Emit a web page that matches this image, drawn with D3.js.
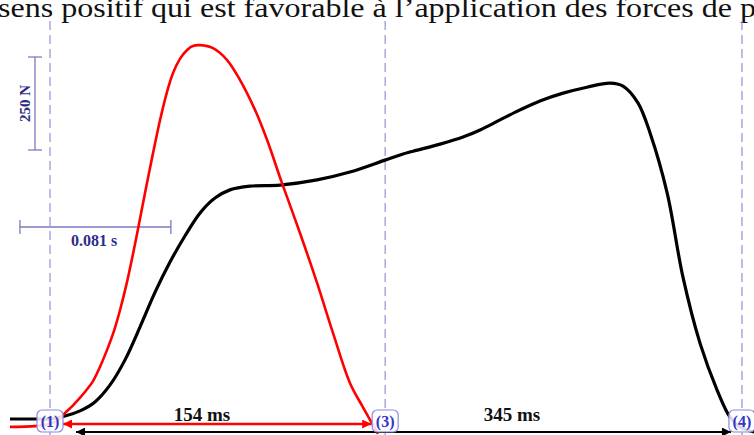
<!DOCTYPE html>
<html><head><meta charset="utf-8">
<script src="https://cdn.jsdelivr.net/npm/d3@7"></script>
<style>html,body{margin:0;padding:0;background:#fff;}svg{display:block;}</style>
</head><body>
<svg id="c" width="754" height="435"></svg>
<script>
// time in ms (0 = marker 1), force in N
const redTime  = [-18.5,-6.9,0,3.7,6.9,10.2,13.4,16.6,19.9,23.1,26.8,29.6,32.4,35.6,38.4,40.7,44.4,47.2,50.9,54.1,56.9,60.1,63.4,66.1,69.4,75.4,81.9,87.9,94.8,100.4,107.3,115.6,123.5,130.9,138.7,144.7,148.9,151.7];
const redForce = [-13,-11,-5,5,24,42,62,84,110,148,200,245,301,376,452,519,629,710,812,887,938,976,1000,1011,1013,1005,973,919,839,758,642,508,374,239,105,40,-3,-32];
const blackTime  = [-18.5,-6.9,0,6.9,13.9,20.8,27.7,34.7,41.6,48.6,55.5,62.4,69.4,76.3,83.2,92.5,106.4,123.5,138.7,154.9,161.9,167.9,180.4,191.0,198.9,208.1,217.4,226.6,237.3,248.3,259.0,265.0,271.9,277.5,285.4,292.7,300.6,308.5,314.5,319.1,325.6];
const blackForce = [8,8,8,16,30,54,99,167,255,349,430,500,562,602,624,634,637,651,672,704,718,728,747,766,785,812,839,863,884,900,911,903,858,777,616,390,212,86,13,-13,-27];
const markerTimes  = [0,155,320];
const markerLabels = ["(1)","(3)","(4)"];
const spanLabels   = ["154 ms","345 ms"];
const forceBar = [0,250]; const forceBarLabel = "250 N";
const timeBar  = [-13.9,55.9]; const timeBarLabel = "0.081 s";
const headline = "sens positif qui est favorable à l’application des forces de p";

const svg = d3.select("#c");
const x = d3.scaleLinear().domain([0,154]).range([50,383]);
const y = d3.scaleLinear().domain([0,250]).range([422,329]);
const serif = "Liberation Serif, DejaVu Serif, serif";
const guide = "#9a9ad8", navy = "#2d2d85", barCol = "#7a7ac2";

// headline
svg.append("text").attr("x",-2).attr("y",17).attr("font-family",serif).attr("font-size",28)
  .attr("fill","#111").attr("textLength",758).attr("lengthAdjust","spacingAndGlyphs").text(headline);

// dashed guides
svg.selectAll("line.guide").data(markerTimes).join("line").attr("class","guide")
  .attr("x1",d=>x(d)).attr("x2",d=>x(d)).attr("y1",21).attr("y2",435)
  .attr("stroke",guide).attr("stroke-width",1.3).attr("stroke-dasharray","9,5");

// force scale bar
const fbx = 35;
const fb = svg.append("g").attr("stroke",barCol).attr("stroke-width",1.3);
const fTop = 57, fBot = fTop + (y(forceBar[0]) - y(forceBar[1]));
fb.append("line").attr("x1",fbx).attr("x2",fbx).attr("y1",fTop).attr("y2",fBot);
fb.append("line").attr("x1",fbx-7).attr("x2",fbx+7).attr("y1",fTop).attr("y2",fTop);
fb.append("line").attr("x1",fbx-7).attr("x2",fbx+7).attr("y1",fBot).attr("y2",fBot);
svg.append("text").attr("transform",`translate(30,${(fTop+fBot)/2}) rotate(-90)`)
  .attr("text-anchor","middle").attr("font-family",serif).attr("font-weight","bold")
  .attr("font-size",15).attr("fill",navy).text(forceBarLabel);

// time scale bar
const tby = 227;
const tb = svg.append("g").attr("stroke",barCol).attr("stroke-width",1.3);
tb.append("line").attr("x1",x(timeBar[0])).attr("x2",x(timeBar[1])).attr("y1",tby).attr("y2",tby);
tb.append("line").attr("x1",x(timeBar[0])).attr("x2",x(timeBar[0])).attr("y1",tby-7).attr("y2",tby+7);
tb.append("line").attr("x1",x(timeBar[1])).attr("x2",x(timeBar[1])).attr("y1",tby-7).attr("y2",tby+7);
svg.append("text").attr("x",94).attr("y",246).attr("text-anchor","middle")
  .attr("font-family",serif).attr("font-weight","bold").attr("font-size",16).attr("fill",navy).text(timeBarLabel);

// curves
const line = d3.line().x(d=>x(d[0])).y(d=>y(d[1])).curve(d3.curveCatmullRom.alpha(0.5));
svg.append("path").datum(d3.zip(blackTime,blackForce)).attr("d",line)
  .attr("fill","none").attr("stroke","#000").attr("stroke-width",3.2).attr("stroke-linejoin","round");
svg.append("path").datum(d3.zip(redTime,redForce)).attr("d",line)
  .attr("fill","none").attr("stroke","#f00").attr("stroke-width",2.6).attr("stroke-linejoin","round");

// arrows
const defs = svg.append("defs");
[["r","#f00"],["k","#000"]].forEach(([id,c])=>{
  defs.append("marker").attr("id","a"+id).attr("viewBox","0 0 10 10").attr("refX",10).attr("refY",5)
    .attr("markerWidth",13).attr("markerHeight",9).attr("markerUnits","userSpaceOnUse")
    .attr("orient","auto-start-reverse").append("path").attr("d","M0,0L10,5L0,10z").attr("fill",c);
});
svg.append("line").attr("x1",x(markerTimes[0])+13).attr("x2",x(markerTimes[1])-14).attr("y1",424).attr("y2",424)
  .attr("stroke","#f00").attr("stroke-width",2.6).attr("marker-start","url(#ar)").attr("marker-end","url(#ar)");
svg.append("line").attr("x1",x(markerTimes[0])+26).attr("x2",x(markerTimes[2])-11).attr("y1",432).attr("y2",432)
  .attr("stroke","#000").attr("stroke-width",2).attr("marker-start","url(#ak)").attr("marker-end","url(#ak)");

svg.append("text").attr("x",202).attr("y",421).attr("text-anchor","middle").attr("font-family",serif)
  .attr("font-weight","bold").attr("font-size",19).attr("fill","#111").text(spanLabels[0]);
svg.append("text").attr("x",512).attr("y",421).attr("text-anchor","middle").attr("font-family",serif)
  .attr("font-weight","bold").attr("font-size",19).attr("fill","#111").text(spanLabels[1]);

// marker boxes
const mk = svg.selectAll("g.mk").data(markerTimes).join("g").attr("class","mk")
  .attr("transform",d=>`translate(${x(d)},421)`);
mk.append("rect").attr("x",-13).attr("y",-11).attr("width",26).attr("height",22).attr("rx",5)
  .attr("fill","#fff").attr("fill-opacity",0.85).attr("stroke","#8a8ae0").attr("stroke-width",1.2);
mk.append("text").attr("y",6).attr("text-anchor","middle").attr("font-family",serif)
  .attr("font-weight","bold").attr("font-size",16).attr("fill","#3535c8").text((d,i)=>markerLabels[i]);
</script>
</body></html>
